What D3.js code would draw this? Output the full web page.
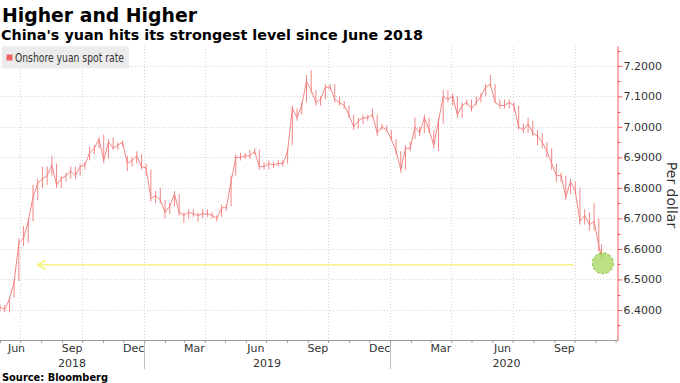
<!DOCTYPE html>
<html><head><meta charset="utf-8">
<script src="https://cdn.jsdelivr.net/npm/d3@7"></script>
<style>body{margin:0;background:#fff}svg{display:block}text{font-family:"DejaVu Sans",Verdana,sans-serif}</style>
</head><body><svg id="c" width="680" height="383"></svg>
<script>
// ---- data (weekly, Friday closes, high, low; last point is the final day) ----
const firstWeek = "2018-06-01";
const lastDay = "2020-11-10";
const close = [
6.410,6.402,6.435,6.493,6.620, 6.635,6.690,6.770,6.815, 6.830,6.840,6.875,6.810,6.830, 6.840,6.855,6.840,6.870, 6.875,6.915,6.930,6.960, 6.890,6.950,6.930,6.940,6.950, 6.880,6.890,6.905,6.870,
6.865,6.765,6.775,6.760, 6.720,6.740,6.780,6.720, 6.710,6.720,6.715,6.710,6.715, 6.715,6.710,6.700,6.735, 6.735,6.820,6.900,6.900,6.905, 6.905,6.920,6.870,6.870, 6.880,6.875,6.880,6.880, 6.920,7.060,7.030,7.070,7.150, 7.120,7.080,7.090,7.130, 7.130,7.090,7.080,7.070, 7.040,7.000,7.020,7.030,7.030, 7.040,6.980,7.000,6.990,
6.960,6.920,6.860,6.930,6.930, 7.000,6.980,7.030,6.990, 6.940,7.020,7.100,7.090, 7.100,7.040,7.070,7.080, 7.060,7.080,7.100,7.130,7.140, 7.080,7.070,7.070,7.080, 7.070,7.000,6.990,7.010,6.980, 6.970,6.950,6.920,6.880, 6.840,6.840,6.770,6.820, 6.790,6.690,6.710,6.680,6.690, 6.610, 6.575];
const high = [
6.418,6.415,6.440,6.500,6.635, 6.675,6.700,6.810,6.830, 6.870,6.870,6.905,6.880,6.840, 6.850,6.870,6.870,6.880, 6.885,6.935,6.940,6.965, 6.975,6.960,6.965,6.950,6.955, 6.905,6.900,6.920,6.910,
6.880,6.860,6.790,6.800, 6.760,6.750,6.790,6.780, 6.720,6.730,6.730,6.720,6.730, 6.730,6.720,6.710,6.745, 6.745,6.840,6.910,6.915,6.915, 6.925,6.930,6.925,6.885, 6.890,6.885,6.890,6.890, 6.930,7.070,7.060,7.080,7.170, 7.185,7.120,7.100,7.140, 7.140,7.140,7.100,7.085, 7.070,7.040,7.030,7.040,7.040, 7.060,7.040,7.010,7.005,
6.990,6.960,6.920,6.940,6.950, 7.030,7.000,7.040,7.030, 6.990,7.030,7.120,7.120, 7.110,7.100,7.080,7.090, 7.090,7.100,7.110,7.140,7.170, 7.140,7.090,7.090,7.090, 7.080,7.070,7.010,7.030,7.020, 6.990,6.980,6.950,6.930, 6.880,6.850,6.840,6.830, 6.820,6.800,6.730,6.720,6.750, 6.700, 6.615];
const low = [
6.395,6.393,6.392,6.440,6.495, 6.610,6.620,6.690,6.760, 6.800,6.810,6.840,6.800,6.800, 6.820,6.830,6.830,6.840, 6.860,6.890,6.910,6.930, 6.880,6.895,6.925,6.925,6.935, 6.855,6.870,6.880,6.860,
6.840,6.755,6.750,6.750, 6.700,6.715,6.740,6.710, 6.685,6.700,6.705,6.690,6.700, 6.705,6.700,6.690,6.705, 6.725,6.740,6.840,6.890,6.895, 6.895,6.910,6.860,6.860, 6.860,6.865,6.870,6.870, 6.880,6.940,7.020,7.040,7.080, 7.110,7.070,7.070,7.090, 7.120,7.080,7.070,7.060, 7.030,6.990,6.995,7.010,7.020, 7.030,6.970,6.990,6.985,
6.955,6.910,6.850,6.860,6.920, 6.960,6.970,6.980,6.980, 6.930,6.920,7.010,7.080, 7.070,7.030,7.030,7.070, 7.050,7.070,7.080,7.100,7.130, 7.080,7.060,7.060,7.060, 7.050,6.990,6.980,6.980,6.970, 6.940,6.930,6.900,6.860, 6.820,6.820,6.760,6.780, 6.780,6.680,6.680,6.660,6.660, 6.590, 6.565];
const yTicks = [6.4,6.5,6.6,6.7,6.8,6.9,7.0,7.1,7.2];
const yMinor = [6.35,6.45,6.55,6.65,6.75,6.85,6.95,7.05,7.15,7.25];
const monthTickDates = ["2018-06-01","2018-09-01","2018-12-01","2019-03-01","2019-06-01","2019-09-01","2019-12-01","2020-03-01","2020-06-01","2020-09-01"];
const monthTickLabels = ["Jun","Sep","Dec","Mar","Jun","Sep","Dec","Mar","Jun","Sep"];
const yearLabels = ["2018","2019","2020"];
const yearStarts = ["2019-01-01","2020-01-01"];
const arrowValue = 6.548, arrowFrom = "2020-09-30", arrowTo = "2018-07-27";
const circleDate = "2020-11-12", circleValue = 6.553;

// ---- chart ----
const parse = d3.timeParse("%Y-%m-%d");
const svg = d3.select("#c");
const x0 = parse("2018-06-01"), x1 = parse("2020-12-03");
const x = d3.scaleTime().domain([x0, x1]).range([0, 617]);
const y = d3.scaleLinear().domain([6.30, 7.265]).range([340.5, 46]);
const AX = 617, TOP = 46, BOT = 340;

const dates = close.map((v, i) => i < close.length - 1 ? d3.timeDay.offset(parse(firstWeek), 7 * i) : parse(lastDay));

// grid
svg.append("g").selectAll("line").data(yTicks).join("line")
  .attr("x1", 0).attr("x2", AX).attr("y1", d => Math.round(y(d)) + .5).attr("y2", d => Math.round(y(d)) + .5)
  .attr("stroke", "#d4d4d4").attr("stroke-dasharray", "1,2");
const quarters = d3.timeMonth.range(parse("2018-07-01"), parse("2020-11-01"), 3);
svg.append("g").selectAll("line").data(quarters).join("line")
  .attr("x1", d => Math.round(x(d)) + .5).attr("x2", d => Math.round(x(d)) + .5).attr("y1", TOP).attr("y2", BOT)
  .attr("stroke", "#d4d4d4").attr("stroke-dasharray", "1,2");

// legend
svg.append("rect").attr("x", 2).attr("y", 46.5).attr("width", 127).attr("height", 22).attr("fill", "#ececec");
svg.append("rect").attr("x", 6.5).attr("y", 54.5).attr("width", 6).attr("height", 6).attr("fill", "#f06464");
svg.append("text").attr("x", 15).attr("y", 61.7).attr("font-size", 11.5).attr("fill", "#333")
  .attr("textLength", 109).attr("lengthAdjust", "spacingAndGlyphs").text("Onshore yuan spot rate");

// data: weekly ranges and closes
const red = "#f37878";
svg.append("g").selectAll("line").data(dates).join("line")
  .attr("x1", d => x(d)).attr("x2", d => x(d))
  .attr("y1", (d, i) => y(high[i])).attr("y2", (d, i) => y(low[i]))
  .attr("stroke", red).attr("stroke-width", 0.9);
svg.append("path").datum(dates)
  .attr("d", d3.line().x(d => x(d)).y((d, i) => y(close[i])))
  .attr("fill", "none").attr("stroke", red).attr("stroke-width", 0.9);

// arrow annotation
const ay = y(arrowValue), ax1 = x(parse(arrowFrom)), ax2 = x(parse(arrowTo));
const yel = "#f2ef6a";
svg.append("line").attr("x1", ax1).attr("x2", ax2).attr("y1", ay).attr("y2", ay).attr("stroke", yel).attr("stroke-width", 1.3);
svg.append("path").attr("d", `M${ax2 + 8},${ay - 4.5}L${ax2},${ay}L${ax2 + 8},${ay + 4.5}`)
  .attr("fill", "none").attr("stroke", yel).attr("stroke-width", 1.3);
svg.append("circle").attr("cx", x(parse(circleDate))).attr("cy", y(circleValue)).attr("r", 10.5)
  .attr("fill", "rgba(165,214,90,0.75)").attr("stroke", "#7fbf3a").attr("stroke-dasharray", "3,2");

// bottom axis
const xAxis = svg.append("g").attr("transform", `translate(0,${BOT})`)
  .call(d3.axisBottom(x).ticks(d3.timeMonth.every(1)).tickSize(3).tickSizeOuter(0).tickFormat(""));
xAxis.select(".domain").attr("stroke", "#9a9a9a");
xAxis.selectAll(".tick line").attr("stroke", "#9a9a9a");

svg.append("g").selectAll("text").data(monthTickDates).join("text")
  .attr("x", d => { const m = parse(d); return Math.max(16.5, x(new Date((+m + +d3.timeMonth.offset(m, 1)) / 2))); })
  .attr("y", 352).attr("text-anchor", "middle").attr("font-size", 11).attr("fill", "#333")
  .text((d, i) => monthTickLabels[i]);
const yb = [x0, ...yearStarts.map(parse), x1];
svg.append("g").selectAll("text").data(yearLabels).join("text")
  .attr("x", (d, i) => (x(yb[i]) + Math.min(x(yb[i + 1]), AX)) / 2 + (i === 2 ? 3 : 0))
  .attr("y", 366.5).attr("text-anchor", "middle").attr("font-size", 11).attr("fill", "#333").text(d => d);
svg.append("g").selectAll("line").data(yearStarts).join("line")
  .attr("x1", d => Math.round(x(parse(d))) + .5).attr("x2", d => Math.round(x(parse(d))) + .5)
  .attr("y1", 343).attr("y2", 369).attr("stroke", "#bdbdbd");

// right axis
const axRed = "#ef5a5a";
const yAxis = svg.append("g").attr("transform", `translate(${AX + .5},0)`)
  .call(d3.axisRight(y).tickValues(yTicks).tickSize(5).tickSizeOuter(0).tickPadding(1).tickFormat(d3.format(".4f")));
yAxis.select(".domain").attr("stroke", axRed);
yAxis.selectAll(".tick line").attr("stroke", axRed);
yAxis.selectAll(".tick text").attr("font-size", 11).attr("fill", "#333").attr("font-family", "DejaVu Sans");
svg.append("g").selectAll("line").data(yMinor).join("line")
  .attr("x1", AX + .5).attr("x2", AX + 3.5).attr("y1", d => Math.round(y(d)) + .5).attr("y2", d => Math.round(y(d)) + .5)
  .attr("stroke", axRed);
svg.append("text").attr("transform", "translate(667,195) rotate(90)").attr("text-anchor", "middle")
  .attr("font-size", 14).attr("fill", "#333").text("Per dollar");

// titles
svg.append("text").attr("x", 2).attr("y", 22).attr("font-size", 20).attr("font-weight", "bold").attr("fill", "#000")
  .attr("textLength", 195).attr("lengthAdjust", "spacingAndGlyphs").text("Higher and Higher");
svg.append("text").attr("x", 1).attr("y", 39.5).attr("font-size", 14.5).attr("font-weight", "bold").attr("fill", "#000")
  .attr("textLength", 422).attr("lengthAdjust", "spacingAndGlyphs").text("China's yuan hits its strongest level since June 2018");
svg.append("text").attr("x", 2).attr("y", 380.5).attr("font-size", 11).attr("font-weight", "bold").attr("fill", "#000")
  .attr("textLength", 106).attr("lengthAdjust", "spacingAndGlyphs").text("Source: Bloomberg");
</script></body></html>
